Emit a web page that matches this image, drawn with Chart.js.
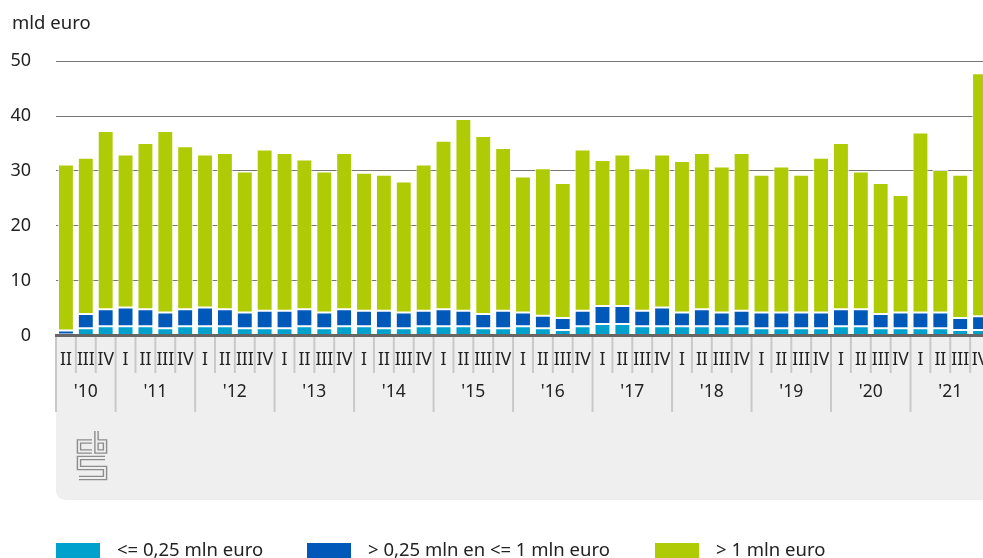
<!DOCTYPE html>
<html lang="nl">
<head>
<meta charset="utf-8">
<title>mld euro</title>
<script src="https://cdn.jsdelivr.net/npm/chart.js@4.4.1/dist/chart.umd.min.js"></script>
<style>
  html, body { margin: 0; padding: 0; background: #fff; overflow: hidden; }
  #wrap { width: 990px; height: 558px; }
</style>
</head>
<body>
<div id="wrap"><canvas id="chart" width="990" height="558"></canvas></div>
<script>
// ---------- DATA ----------
const years = ["'10", "'11", "'12", "'13", "'14", "'15", "'16", "'17", "'18", "'19", "'20", "'21"];
const quarters = ["I", "II", "III", "IV"];
const yTicks = [0, 10, 20, 30, 40, 50];
const seriesNames = ["<= 0,25 mln euro", "> 0,25 mln en <= 1 mln euro", "> 1 mln euro"];

// 2010 II t/m 2021 IV, mld euro
const small = [0.2, 1.3, 1.7, 1.7, 1.7, 1.3, 1.7, 1.7, 1.7, 1.3, 1.3, 1.3, 1.7, 1.3, 1.7, 1.7,
  1.3, 1.3, 1.7, 1.7, 1.7, 1.3, 1.3, 1.7, 1.3, 1.0, 1.7, 2.1, 2.1, 1.7, 1.7, 1.7,
  1.7, 1.7, 1.7, 1.3, 1.3, 1.3, 1.3, 1.7, 1.7, 1.3, 1.3, 1.3, 1.3, 1.0, 1.0];
const medium = [0.7, 2.6, 3.1, 3.4, 3.1, 2.9, 3.1, 3.4, 3.1, 2.9, 3.2, 3.2, 3.1, 2.9, 3.1, 2.8,
  3.2, 2.9, 2.8, 3.1, 2.8, 2.6, 3.2, 2.5, 2.3, 2.2, 2.8, 3.3, 3.3, 2.8, 3.4, 2.5,
  3.1, 2.5, 2.8, 2.9, 2.9, 2.9, 2.9, 3.1, 3.1, 2.6, 2.9, 2.9, 2.9, 2.2, 2.5];
const large = [30.3, 28.5, 32.5, 27.9, 30.3, 33.1, 29.7, 27.9, 28.5, 25.7, 29.4, 28.8, 27.3, 25.7, 28.5, 25.2,
  24.8, 23.9, 26.7, 30.7, 35.0, 32.5, 29.7, 24.8, 26.9, 24.6, 29.4, 26.6, 27.6, 26.0, 27.9, 27.6,
  28.5, 26.6, 28.8, 25.1, 26.6, 25.1, 28.2, 30.3, 25.1, 23.9, 21.4, 32.8, 26.0, 26.1, 44.3];

// categories: reeks begint in het 2e kwartaal van 2010
const categories = years.flatMap((y, i) => (i === 0 ? quarters.slice(1) : quarters).map(q => y + " " + q));

const colors = ["#00A1CD", "#0058B8", "#AFCB05"];
const FONT = "'Noto Sans', 'Open Sans', sans-serif";

// ---------- EXTRA DRAWING (as, panel, logo, legenda) ----------
function drawLogo(ctx, ox, oy) {
  const paths = [
    [[15, 10.5], [2, 10.5], [2, 20.5], [15, 20.5]],
    [[19.5, 0], [19.5, 20.5], [28, 20.5], [28, 10.5], [19.5, 10.5]],
    [[28, 27], [2, 27], [2, 37], [28, 37], [28, 47], [2, 47]]
  ];
  ctx.save();
  ctx.lineJoin = "miter";
  ctx.lineCap = "butt";
  [[4.6, "#8c8c8c"], [1.8, "#efefef"]].forEach(([w, c]) => {
    ctx.lineWidth = w;
    ctx.strokeStyle = c;
    paths.forEach(p => {
      ctx.beginPath();
      p.forEach(([px, py], k) => k ? ctx.lineTo(ox + px, oy + py) : ctx.moveTo(ox + px, oy + py));
      ctx.stroke();
    });
  });
  ctx.restore();
}

const cbsExtras = {
  id: "cbsExtras",
  afterDraw(chart) {
    const ctx = chart.ctx;
    const xs = chart.scales.x;
    const area = chart.chartArea;
    const W = chart.width;
    const cw = xs.width / categories.length;
    const top = area.bottom + 1.5;

    ctx.save();

    // grijs paneel onder de as
    ctx.fillStyle = "#efefef";
    ctx.beginPath();
    ctx.roundRect(area.left, top, W - area.left + 10, 500 - top, [0, 0, 0, 9]);
    ctx.fill();

    // scheidingslijnen
    ctx.strokeStyle = "#c9c9c9";
    ctx.lineWidth = 2;
    const yearStarts = [];
    let idx = 0;
    years.forEach((y, i) => { yearStarts.push(idx); idx += (i === 0 ? 3 : 4); });
    for (let i = 0; i <= categories.length; i++) {
      const bx = xs.getPixelForValue(i) - cw / 2;
      const long = yearStarts.includes(i) || i === categories.length;
      ctx.beginPath();
      ctx.moveTo(bx, top);
      ctx.lineTo(bx, long ? 412 : 373);
      ctx.stroke();
    }

    // kwartaal- en jaarlabels
    ctx.fillStyle = "#222";
    ctx.font = "17.5px " + FONT;
    ctx.textAlign = "center";
    ctx.textBaseline = "middle";
    categories.forEach((c, i) => {
      ctx.fillText(c.split(" ")[1], xs.getPixelForValue(i), 360);
    });
    years.forEach((y, i) => {
      const first = yearStarts[i];
      const last = i < years.length - 1 ? yearStarts[i + 1] - 1 : categories.length - 1;
      const cx = (xs.getPixelForValue(first) + xs.getPixelForValue(last)) / 2;
      ctx.fillText(y, cx, 392);
    });

    // x-as
    ctx.strokeStyle = "#666";
    ctx.lineWidth = 3;
    ctx.beginPath();
    ctx.moveTo(area.left - 1, area.bottom);
    ctx.lineTo(W, area.bottom);
    ctx.stroke();

    // eenheid
    ctx.fillStyle = "#222";
    ctx.font = "18.5px " + FONT;
    ctx.textAlign = "left";
    ctx.textBaseline = "alphabetic";
    ctx.fillText("mld euro", 12, 29);

    drawLogo(ctx, 77, 431);

    // legenda
    const legendX = [56, 307, 655];
    ctx.textBaseline = "middle";
    seriesNames.forEach((name, i) => {
      ctx.fillStyle = colors[i];
      ctx.fillRect(legendX[i], 543, 44, 16);
      ctx.fillStyle = "#222";
      ctx.fillText(name, legendX[i] + 61, 551);
    });

    ctx.restore();
  }
};

// ---------- CHART ----------
const ctx = document.getElementById("chart").getContext("2d");

new Chart(ctx, {
  type: "bar",
  data: {
    labels: categories,
    datasets: [small, medium, large].map((values, i) => ({
      label: seriesNames[i],
      data: values,
      backgroundColor: colors[i],
      borderColor: "rgba(255,255,255,0.75)",
      borderWidth: 1,
      borderSkipped: false,
      barPercentage: 0.8,
      categoryPercentage: 1
    }))
  },
  options: {
    responsive: false,
    animation: false,
    layout: { padding: { top: 61.3, bottom: 222.5, left: 0, right: 0 } },
    plugins: {
      legend: { display: false },
      tooltip: { enabled: false }
    },
    scales: {
      x: {
        stacked: true,
        grid: { display: false },
        border: { display: false },
        ticks: { display: false },
        afterFit: s => { s.height = 0; }
      },
      y: {
        stacked: true,
        min: 0,
        max: 50,
        afterBuildTicks: s => { s.ticks = yTicks.map(v => ({ value: v })); },
        afterFit: s => { s.width = 56; },
        border: { display: false },
        grid: {
          drawTicks: false,
          color: c => (c.tick && c.tick.value === 0 ? "rgba(0,0,0,0)" : "#777"),
          lineWidth: 1
        },
        ticks: {
          padding: 25,
          color: "#222",
          font: { family: FONT, size: 18 }
        }
      }
    }
  },
  plugins: [cbsExtras]
});
</script>
</body>
</html>
